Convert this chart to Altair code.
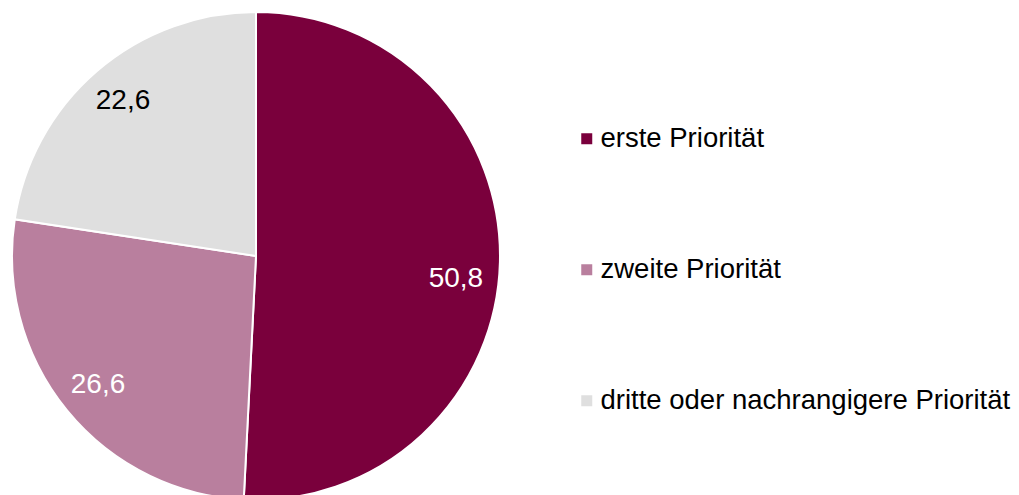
import altair as alt
import pandas as pd

categories = ["erste Priorität", "zweite Priorität", "dritte oder nachrangigere Priorität"]
values = [50.8, 26.6, 22.6]
labels = ["50,8", "26,6", "22,6"]
colors = ["#7A003C", "#B97F9E", "#DFDFDF"]
label_colors = ["#FFFFFF", "#FFFFFF", "#000000"]

df = pd.DataFrame({
    "cat": categories,
    "val": values,
    "lab": labels,
    "order": [0, 1, 2],
    "lc": label_colors,
})

base = alt.Chart(df).encode(
    theta=alt.Theta("val:Q", stack=True),
    order=alt.Order("order:Q"),
)

pie = base.mark_arc(outerRadius=244, stroke="white", strokeWidth=2).encode(
    color=alt.Color(
        "cat:N",
        scale=alt.Scale(domain=categories, range=colors),
        sort=categories,
        legend=alt.Legend(
            title=None,
            orient="none",
            legendX=565,
            legendY=113,
            padding=0,
            offset=0,
            symbolType="square",
            symbolSize=121,
            symbolStrokeWidth=0,
            labelFontSize=27.5,
            labelFont="Liberation Sans",
            labelColor="#000000",
            labelOffset=0,
            rowPadding=102,
            labelLimit=700,
        ),
    )
)

text_first = base.transform_calculate(
    t="datum.order == 0 ? datum.lab : ''"
).mark_text(radius=200, fontSize=28, font="Liberation Sans", dy=18).encode(
    text="t:N",
    color=alt.Color("lc:N", scale=None),
)

text_rest = base.transform_calculate(
    t="datum.order == 0 ? '' : datum.lab"
).mark_text(radius=204, fontSize=28, font="Liberation Sans").encode(
    text="t:N",
    color=alt.Color("lc:N", scale=None),
)

chart = alt.layer(pie, text_first, text_rest).properties(
    width=496, height=488, padding=0
).configure_view(strokeWidth=0)

chart.save("out.html", embed_options={"renderer": "svg", "actions": False})
